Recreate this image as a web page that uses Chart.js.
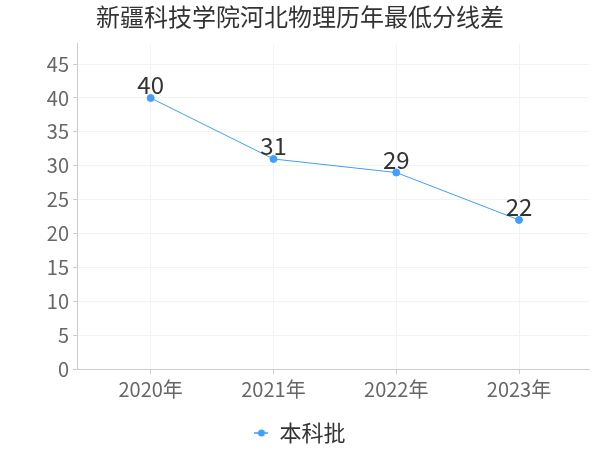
<!DOCTYPE html>
<html>
<head>
<meta charset="utf-8">
<script src="https://cdn.jsdelivr.net/npm/chart.js@4"></script>
<style>
  body { margin: 0; background: #fff; }
  #wrap { width: 600px; height: 450px; }
</style>
</head>
<body>
<div id="wrap"><canvas id="scoreChart"></canvas></div>
<script>
// chart data
let years = ["2020年", "2021年", "2022年", "2023年"];
let scoreDiff = [40, 31, 29, 22];
let seriesName = "本科批";
let chartTitle = "新疆科技学院河北物理历年最低分线差";

let fontFamily = "'Noto Sans CJK SC', 'Noto Sans', sans-serif";
let lineColor = "#409eff";

// legend marker: short line with a dot in the middle
function legendMarker() {
    let c = document.createElement("canvas");
    c.width = 14; c.height = 10;
    let g = c.getContext("2d");
    g.strokeStyle = lineColor;
    g.lineWidth = 1.5;
    g.beginPath(); g.moveTo(0, 5); g.lineTo(14, 5); g.stroke();
    g.fillStyle = lineColor;
    g.beginPath(); g.arc(7, 5, 3.5, 0, Math.PI * 2); g.fill();
    return c;
}

// draws the value above each point
let valueLabels = {
    id: "valueLabels",
    afterDatasetsDraw(chart) {
        let ctx = chart.ctx;
        let meta = chart.getDatasetMeta(0);
        ctx.save();
        ctx.font = "24px " + fontFamily;
        ctx.fillStyle = "#333";
        ctx.textAlign = "center";
        ctx.textBaseline = "bottom";
        meta.data.forEach((pt, i) => {
            ctx.fillText(String(scoreDiff[i]), pt.x, pt.y - 1);
        });
        ctx.restore();
    }
};

let marker = legendMarker();
let ctx = document.getElementById("scoreChart").getContext("2d");
new Chart(ctx, {
    type: "line",
    data: {
        datasets: [{
            label: seriesName,
            data: scoreDiff.map((v, i) => ({ x: i, y: v })),
            borderColor: lineColor,
            backgroundColor: lineColor,
            borderWidth: 1,
            pointRadius: 3.5,
            pointHoverRadius: 3.5,
            fill: false,
            tension: 0
        }]
    },
    options: {
        responsive: true,
        maintainAspectRatio: false,
        animation: false,
        layout: { padding: { left: 11, right: 11, top: 0, bottom: -4 } },
        plugins: {
            title: {
                display: true,
                text: chartTitle,
                color: "#333",
                font: { family: fontFamily, size: 24, weight: "normal" },
                padding: { top: 2, bottom: 13 }
            },
            legend: {
                position: "bottom",
                labels: {
                    usePointStyle: true,
                    pointStyleWidth: 14,
                    color: "#333",
                    font: { family: fontFamily, size: 22 },
                    padding: 18,
                    generateLabels: () => [{
                        text: seriesName,
                        strokeStyle: lineColor,
                        fillStyle: lineColor,
                        pointStyle: marker,
                        fontColor: "#333"
                    }]
                }
            },
            tooltip: { enabled: false }
        },
        scales: {
            x: {
                type: "linear",
                min: -0.6,
                max: 3.57,
                afterBuildTicks: (axis) => {
                    axis.ticks = years.map((y, i) => ({ value: i }));
                },
                ticks: {
                    callback: (v) => years[v],
                    color: "#666",
                    font: { family: fontFamily, size: 20 },
                    maxRotation: 0
                },
                grid: { color: "#f3f3f3", tickColor: "#ccc", tickLength: 5 },
                border: { color: "#ccc" }
            },
            y: {
                min: 0,
                max: 48,
                afterBuildTicks: (axis) => {
                    let t = [];
                    for (let v = 0; v <= 45; v += 5) t.push({ value: v });
                    axis.ticks = t;
                },
                afterFit: (axis) => { axis.width = 66; },
                ticks: {
                    color: "#666",
                    font: { family: fontFamily, size: 20 },
                    padding: 4
                },
                grid: { color: "#f3f3f3", tickColor: "#ccc", tickLength: 4 },
                border: { color: "#ccc" }
            }
        }
    },
    plugins: [valueLabels]
});
</script>
</body>
</html>
